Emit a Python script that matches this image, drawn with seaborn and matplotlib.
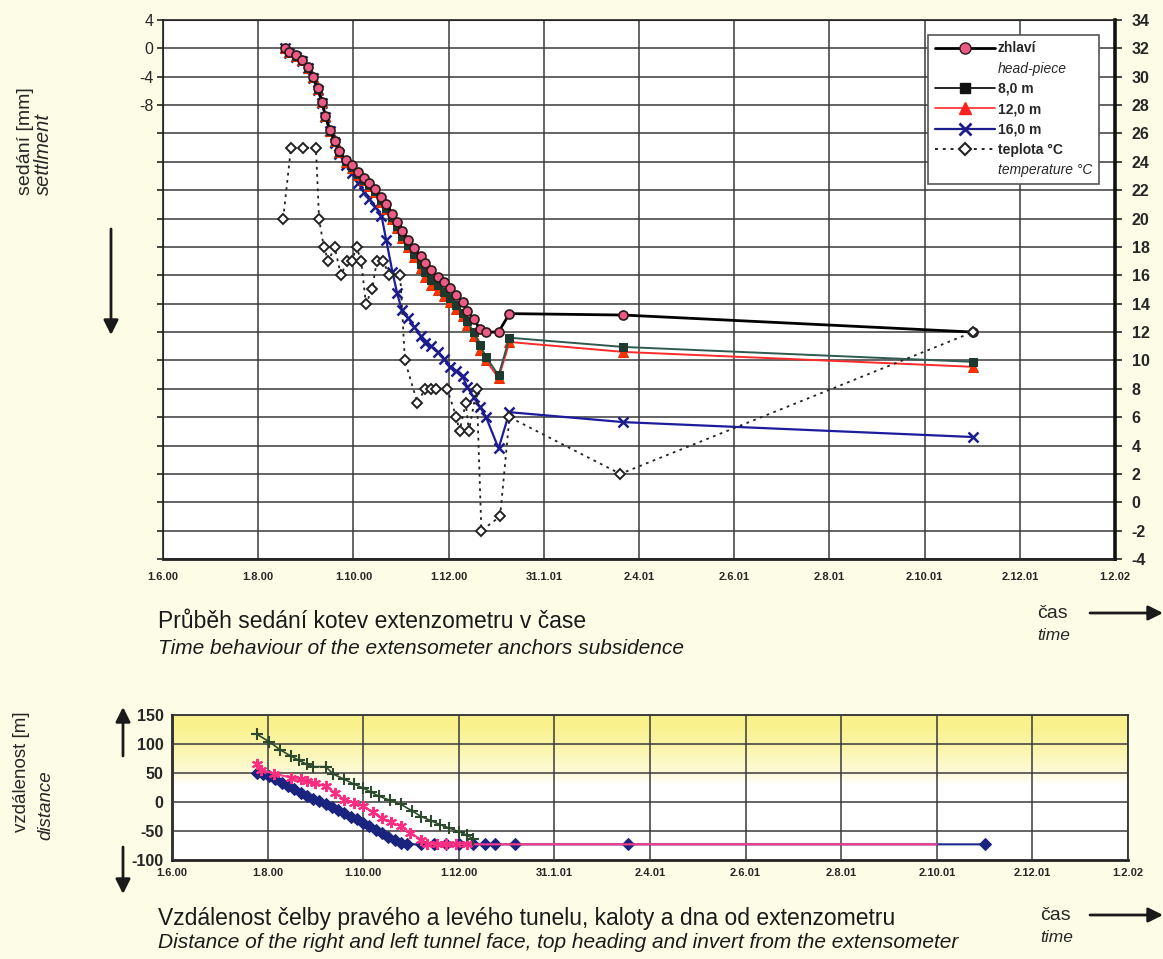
import numpy as np
import pandas as pd
import matplotlib.pyplot as plt
import matplotlib.dates as mdates
from matplotlib.lines import Line2D
import seaborn as sns

# ── settlement of extensometer anchors [mm] ──────────────────
settle_dates = ['2000-08-18', '2000-08-21', '2000-08-25', '2000-08-29', '2000-09-02',
                '2000-09-05', '2000-09-08', '2000-09-11', '2000-09-13', '2000-09-16',
                '2000-09-19', '2000-09-22', '2000-09-26', '2000-09-30', '2000-10-04',
                '2000-10-08', '2000-10-11', '2000-10-15', '2000-10-19', '2000-10-22',
                '2000-10-26', '2000-10-29', '2000-11-01', '2000-11-05', '2000-11-09',
                '2000-11-13', '2000-11-16', '2000-11-20', '2000-11-24', '2000-11-28',
                '2000-12-02', '2000-12-06', '2000-12-10', '2000-12-13', '2000-12-17',
                '2000-12-21', '2000-12-25', '2001-01-02', '2001-01-09', '2001-03-23',
                '2001-11-02']
head_piece = [0, -0.5, -1, -1.6, -2.6, -4, -5.6, -7.5, -9.5, -11.5,
              -13, -14.5, -15.8, -16.5, -17.5, -18.3, -19, -19.8, -21, -22,
              -23.3, -24.5, -25.8, -27, -28.2, -29.3, -30.3, -31.3, -32.2, -33,
              -33.8, -34.8, -35.8, -37, -38.2, -39.5, -40, -40, -37.4, -37.6, -40]
anchor_8m = [0, -0.5, -1.1, -1.7, -2.7, -4.1, -5.7, -7.6, -9.6, -11.6,
             -13.1, -14.6, -15.9, -16.7, -17.7, -18.5, -19.3, -20.1, -21.4, -22.5,
             -23.8, -25, -26.4, -27.7, -29, -30.4, -31.6, -32.6, -33.4, -34.3,
             -35.2, -36.2, -37.3, -38.5, -40, -41.8, -43.5, -46.1, -40.8, -42.1, -44.2]
anchor_12m = [0, -0.5, -1.1, -1.7, -2.7, -4.1, -5.7, -7.6, -9.6, -11.6,
              -13.1, -14.6, -16, -16.8, -17.8, -18.6, -19.4, -20.3, -21.6, -22.7,
              -24, -25.3, -26.7, -28, -29.4, -31, -32.3, -33.3, -34, -34.9,
              -35.8, -36.8, -37.8, -39, -40.5, -42.5, -44, -46.5, -41.4, -42.8, -44.9]
anchor_16m = [0, -0.6, -1.2, -1.8, -2.8, -4.2, -5.8, -7.7, -9.7, -11.7,
              -13.3, -14.9, -16.5, -17.6, -19, -20.2, -21.2, -22.3, -23.6, -27,
              -31.5, -34.5, -36.9, -38, -39.3, -40.5, -41.5, -42, -42.8, -43.8,
              -44.9, -45.5, -46.2, -47.8, -49.2, -50.5, -52, -56.4, -51.3, -52.7, -54.8]

# ── temperature [°C] ─────────────────────────────────────────
temp_dates = ['2000-08-17', '2000-08-22', '2000-08-30', '2000-09-07', '2000-09-09',
              '2000-09-12', '2000-09-15', '2000-09-19', '2000-09-23', '2000-09-27',
              '2000-09-30', '2000-10-03', '2000-10-06', '2000-10-09', '2000-10-13',
              '2000-10-16', '2000-10-20', '2000-10-24', '2000-10-31', '2000-11-03',
              '2000-11-11', '2000-11-16', '2000-11-20', '2000-11-23', '2000-11-30',
              '2000-12-06', '2000-12-08', '2000-12-12', '2000-12-14', '2000-12-19',
              '2000-12-22', '2001-01-03', '2001-01-09', '2001-03-21', '2001-11-02']
temperature = [20, 25, 25, 25, 20, 18, 17, 18, 16, 17,
               17, 18, 17, 14, 15, 17, 17, 16, 16, 10,
               7, 8, 8, 8, 8, 6, 5, 7, 5, 8,
               -2, -1, 6, 2, 12]

# ── distance of tunnel faces from extensometer [m] ───────────
green_dates = ['2000-07-25', '2000-08-02', '2000-08-09', '2000-08-16', '2000-08-21',
               '2000-08-26', '2000-08-30', '2000-09-07', '2000-09-12', '2000-09-19',
               '2000-09-25', '2000-10-01', '2000-10-06', '2000-10-11', '2000-10-18',
               '2000-10-25', '2000-11-01', '2000-11-07', '2000-11-13', '2000-11-19',
               '2000-11-25', '2000-12-01', '2000-12-06', '2000-12-10']
green_dist = [117, 104, 90, 79, 72, 65, 61, 61, 48, 39,
              31, 24, 17, 10, 3, -4, -15, -25, -32, -39,
              -45, -51, -57, -63]
pink_dates = ['2000-07-25', '2000-07-28', '2000-08-05', '2000-08-16', '2000-08-22',
              '2000-08-26', '2000-08-31', '2000-09-07', '2000-09-13', '2000-09-19',
              '2000-09-25', '2000-10-01', '2000-10-07', '2000-10-13', '2000-10-19',
              '2000-10-25', '2000-10-31', '2000-11-07', '2000-11-11', '2000-11-17',
              '2000-11-23', '2000-11-29', '2000-12-06', '2001-10-02']
pink_dist = [66, 55, 49, 42, 39, 36, 33, 27, 16, 4,
             -1, -7, -18, -28, -35, -42, -53, -65, -72, -73,
             -73, -73, -73, -73]
blue_dates = ['2000-07-25', '2000-07-29', '2000-08-02', '2000-08-06', '2000-08-10',
              '2000-08-14', '2000-08-18', '2000-08-22', '2000-08-26', '2000-08-30',
              '2000-09-03', '2000-09-07', '2000-09-11', '2000-09-15', '2000-09-19',
              '2000-09-23', '2000-09-27', '2000-10-01', '2000-10-05', '2000-10-09',
              '2000-10-13', '2000-10-17', '2000-10-21', '2000-10-25', '2000-10-29',
              '2000-11-07', '2000-11-15', '2000-11-23', '2000-12-01', '2000-12-10',
              '2000-12-18', '2000-12-24', '2001-01-06', '2001-03-19', '2001-11-02']
blue_dist = [50, 48, 45, 40, 33, 27, 22, 16, 10, 6,
             1, -4, -9, -14, -19, -25, -30, -36, -42, -48,
             -54, -60, -66, -71, -73, -73, -73, -73, -73, -73,
             -73, -73, -73, -73, -73]

tick_dates = pd.date_range('2000-06-01', periods=11, freq='61D')
tick_labels = ['1.6.00', '1.8.00', '1.10.00', '1.12.00', '31.1.01', '2.4.01',
               '2.6.01', '2.8.01', '2.10.01', '2.12.01', '1.2.02']

sns.set_style('white')
plt.rcParams['font.family'] = ['Liberation Sans', 'DejaVu Sans']

W, H = 1163, 959
PAPER = '#FDFCE6'
fig = plt.figure(figsize=(W / 100, H / 100), dpi=100, facecolor=PAPER)


def fx(x, y):
    return x / W, 1 - y / H


def arrow(x0, y0, x1, y1):
    fig.add_artist(plt.Annotation('', xy=fx(x1, y1), xytext=fx(x0, y0),
                                  xycoords='figure fraction', textcoords='figure fraction',
                                  arrowprops=dict(arrowstyle='-|>', color='#1a1a1a',
                                                  lw=2, mutation_scale=22,
                                                  shrinkA=0, shrinkB=0)))


GRID = '#3a3a3a'
xlim = (mdates.date2num(tick_dates[0]), mdates.date2num(tick_dates[-1]))

# ── top chart: settlement + temperature ──────────────────────
ax = fig.add_axes([163 / W, 1 - 559 / H, (1115 - 163) / W, (559 - 20) / H])
ax.set_facecolor('white')
sd = pd.to_datetime(settle_dates)

sns.lineplot(x=sd, y=anchor_16m, ax=ax, color='#1C1C9C', lw=1.6, marker='x',
             markersize=7, markeredgewidth=1.8, markeredgecolor='#1C1C8C',
             estimator=None, sort=False, zorder=4)
sns.lineplot(x=sd, y=anchor_12m, ax=ax, color='#FF2A2A', lw=1.4, marker='^',
             markersize=6.5, markerfacecolor='#FF3300', markeredgecolor='#E03000',
             estimator=None, sort=False, zorder=5)
sns.lineplot(x=sd, y=anchor_8m, ax=ax, color='#2F5A50', lw=1.4, marker='s',
             markersize=5.5, markerfacecolor='#1E3A2E', markeredgecolor='#1E3A2E',
             estimator=None, sort=False, zorder=5)
sns.lineplot(x=sd, y=head_piece, ax=ax, color='black', lw=2.0, marker='o',
             markersize=6.5, markerfacecolor='#EC5A86', markeredgecolor='#2a1a1a',
             markeredgewidth=1.2, estimator=None, sort=False, zorder=6)

ax.set_xlim(xlim)
ax.set_ylim(-72, 4)
ax.set_yticks(np.arange(-72, 5, 4))
ax.set_yticklabels(['-8' if v == -8 else '-4' if v == -4 else '0' if v == 0 else
                    '4' if v == 4 else '' for v in np.arange(-72, 5, 4)], fontsize=11.5)
ax.set_xticks(tick_dates)
ax.set_xticklabels(tick_labels, fontsize=8, fontweight='bold')
ax.tick_params(axis='x', length=0, pad=9)
ax.tick_params(axis='y', direction='out', length=4, width=1.2, color='#222', pad=3)
ax.grid(True, color=GRID, lw=1.1)
ax.set_axisbelow(True)
ax.set_xlabel('')
ax.set_ylabel('')
for s in ax.spines.values():
    s.set_color('#222')
    s.set_linewidth(1.2)
ax.spines['bottom'].set_linewidth(2)

ax2 = ax.twinx()
sns.lineplot(x=pd.to_datetime(temp_dates), y=temperature, ax=ax2, color='#222',
             lw=1.3, linestyle=(0, (1.5, 2.5)), marker='D', markersize=5.5,
             markerfacecolor='white', markeredgecolor='#222', markeredgewidth=1.4,
             estimator=None, sort=False, zorder=3)
ax2.set_ylim(-4, 34)
ax2.set_yticks(np.arange(-4, 35, 2))
ax2.set_yticklabels([str(v) for v in np.arange(-4, 35, 2)], fontsize=11.5,
                    fontweight='bold')
ax2.tick_params(axis='y', direction='out', length=5, width=1.2, pad=7)
ax2.set_ylabel('')
ax2.spines['right'].set_linewidth(2.6)
ax2.spines['right'].set_color('#111')
ax2.set_xlim(xlim)

handles = [
    Line2D([], [], color='black', lw=2, marker='o', markersize=8,
           markerfacecolor='#EC5A86', markeredgecolor='#2a1a1a'),
    Line2D([], [], linestyle='none'),
    Line2D([], [], color='black', lw=1.2, marker='s', markersize=7,
           markerfacecolor='#111', markeredgecolor='#111'),
    Line2D([], [], color='#FF2A2A', lw=1.2, marker='^', markersize=8,
           markerfacecolor='#FF2020', markeredgecolor='#FF2020'),
    Line2D([], [], color='#1C1C8C', lw=1.6, marker='x', markersize=8,
           markeredgewidth=2, markeredgecolor='#1C1C8C'),
    Line2D([], [], color='#222', lw=1.4, linestyle=(0, (1.5, 2.5)), marker='D',
           markersize=6, markerfacecolor='white', markeredgecolor='#222',
           markeredgewidth=1.5),
    Line2D([], [], linestyle='none'),
]
labels = ['zhlaví', 'head-piece', '8,0 m', '12,0 m', '16,0 m', 'teplota °C',
          'temperature °C']
leg = ax2.legend(handles, labels, loc='upper left', bbox_to_anchor=(0.804, 0.973),
                 frameon=True, fancybox=False, edgecolor='#555', framealpha=1,
                 prop=dict(weight='bold', size=10), handlelength=4.3,
                 labelspacing=0.45, borderpad=0.5, handletextpad=0.2,
                 borderaxespad=0)
leg.get_frame().set_linewidth(1.2)
for i in (1, 6):
    leg.get_texts()[i].set_fontstyle('italic')
    leg.get_texts()[i].set_fontweight('normal')

# ── bottom chart: distance of tunnel faces ───────────────────
bx = fig.add_axes([172 / W, 1 - 860 / H, (1128 - 172) / W, (860 - 715) / H])
grad = np.linspace(0, 1, 200)[:, None]
alpha = np.clip((grad - 0.52) / 0.40, 0, 1) ** 0.7
img = np.ones((200, 1, 4))
img[..., 0] = 0.98
img[..., 1] = 0.95
img[..., 2] = 0.55
img[..., 3] = alpha
bx.imshow(img[::-1], extent=[0, 1, 0, 1], transform=bx.transAxes,
          aspect='auto', zorder=0, interpolation='bilinear')

sns.lineplot(x=pd.to_datetime(blue_dates), y=blue_dist, ax=bx, color='#1A2A8C',
             lw=1.5, marker='D', markersize=6, markerfacecolor='#1A237E',
             markeredgecolor='#1A237E', estimator=None, sort=False, zorder=3)
pk = pd.to_datetime(pink_dates)
sns.lineplot(x=pk, y=pink_dist, ax=bx, color='#FF3D8B', lw=1.5, marker=(6, 2, 0),
             markersize=8, markeredgewidth=1.5, markeredgecolor='#FF2D80',
             markevery=list(range(len(pink_dates) - 1)),
             estimator=None, sort=False, zorder=4)
sns.lineplot(x=pd.to_datetime(green_dates), y=green_dist, ax=bx, color='#2E4A2E',
             lw=1.2, marker='+', markersize=9, markeredgewidth=1.5,
             markeredgecolor='#2E4A2E', estimator=None, sort=False, zorder=5)

bx.set_xlim(xlim)
bx.set_ylim(-100, 150)
bx.set_yticks([-100, -50, 0, 50, 100, 150])
bx.set_yticklabels(['-100', '-50', '0', '50', '100', '150'], fontsize=11.5,
                   fontweight='bold')
bx.set_xticks(tick_dates)
bx.set_xticklabels(tick_labels, fontsize=8, fontweight='bold')
bx.tick_params(axis='x', length=0, pad=6)
bx.tick_params(axis='y', direction='out', length=4, width=1.2, pad=2)
bx.grid(True, color=GRID, lw=1.1)
bx.set_axisbelow(False)
for gl in bx.get_xgridlines() + bx.get_ygridlines():
    gl.set_zorder(1)
bx.set_xlabel('')
bx.set_ylabel('')
for s in bx.spines.values():
    s.set_color('#222')
    s.set_linewidth(1.2)
bx.spines['left'].set_linewidth(2)
bx.spines['bottom'].set_linewidth(2)

# ── texts and arrows ─────────────────────────────────────────
fig.text(*fx(25, 195), 'sedání [mm]', rotation=90, rotation_mode='anchor',
         ha='left', va='center', fontsize=14)
fig.text(*fx(43, 195), 'settlment', rotation=90, rotation_mode='anchor',
         ha='left', va='center', fontsize=14.5, style='italic')
arrow(111, 229, 111, 335)

fig.text(*fx(158, 621), 'Průběh sedání kotev extenzometru v čase',
         ha='left', va='center', fontsize=16.5, color='#1a1a1a')
fig.text(*fx(158, 648), 'Time behaviour of the extensometer anchors subsidence',
         ha='left', va='center', fontsize=15, style='italic', color='#1a1a1a')
fig.text(*fx(1037, 613), 'čas', ha='left', va='center', fontsize=14)
fig.text(*fx(1037, 636), 'time', ha='left', va='center', fontsize=12.5,
         style='italic')
arrow(1090, 613, 1163, 613)

fig.text(*fx(22, 832), 'vzdálenost [m]', rotation=90, rotation_mode='anchor',
         ha='left', va='center', fontsize=13.5)
fig.text(*fx(46, 840), 'distance', rotation=90, rotation_mode='anchor',
         ha='left', va='center', fontsize=13.5, style='italic')
arrow(123, 756, 123, 707)
arrow(123, 847, 123, 894)

fig.text(*fx(158, 918), 'Vzdálenost čelby pravého a levého tunelu, kaloty a dna od extenzometru',
         ha='left', va='center', fontsize=16.5, color='#1a1a1a')
fig.text(*fx(158, 942), 'Distance of the right and left tunnel face, top heading and invert from the extensometer',
         ha='left', va='center', fontsize=15, style='italic', color='#1a1a1a')
fig.text(*fx(1040, 915), 'čas', ha='left', va='center', fontsize=14)
fig.text(*fx(1040, 937), 'time', ha='left', va='center', fontsize=12.5,
         style='italic')
arrow(1090, 915, 1163, 915)

fig.savefig('out.png', dpi=100, facecolor=PAPER)
